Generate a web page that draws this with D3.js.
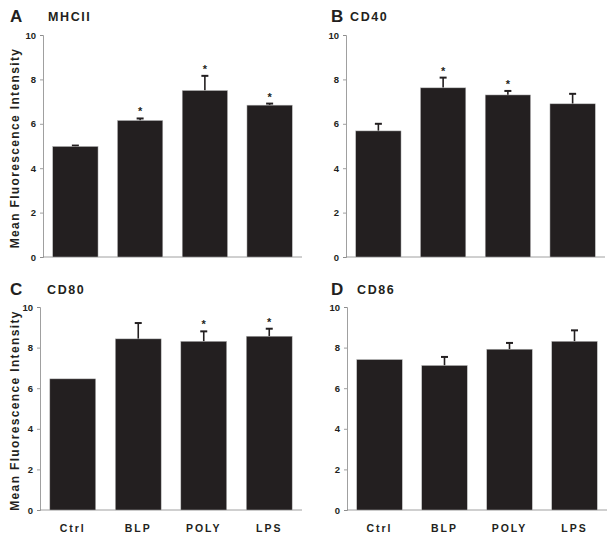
<!DOCTYPE html>
<html><head><meta charset="utf-8">
<script src="https://cdn.jsdelivr.net/npm/d3@7"></script>
<style>
body{margin:0;background:#fff;}
svg text{fill:#231f20;}
</style></head>
<body>
<svg id="c" width="615" height="542"></svg>
<script>
const categories = ["Ctrl","BLP","POLY","LPS"];
const yTicks = [0,2,4,6,8,10];
const panelLetters = ["A","B","C","D"];
const panelTitles = ["MHCII","CD40","CD80","CD86"];
const meanA = [4.98, 6.15, 7.50, 6.84];
const errA  = [5.02, 6.24, 8.16, 6.91];
const sigA  = [false, true, true, true];
const meanB = [5.68, 7.62, 7.30, 6.90];
const errB  = [6.00, 8.08, 7.48, 7.35];
const sigB  = [false, true, true, false];
const meanC = [6.46, 8.43, 8.31, 8.56];
const errC  = [null, 9.21, 8.80, 8.93];
const sigC  = [false, false, true, true];
const meanD = [7.41, 7.12, 7.92, 8.31];
const errD  = [null, 7.54, 8.23, 8.85];
const sigD  = [false, false, false, false];

const svg = d3.select("#c");
const narrow = "'Liberation Sans Narrow','Arial Narrow','Liberation Sans',sans-serif";
const wide = "'Liberation Sans',Arial,sans-serif";

const layout = [
  {x0:43, x1:302, yTop:35, yBot:257, letterX:10, letterY:22, titleX:48, ylabel:true, xlabels:false},
  {x0:346, x1:605, yTop:35, yBot:257, letterX:331, letterY:22, titleX:350, ylabel:false, xlabels:false},
  {x0:40, x1:302, yTop:307, yBot:510, letterX:10, letterY:295, titleX:47, ylabel:true, xlabels:true},
  {x0:347, x1:607, yTop:307, yBot:510, letterX:331, letterY:295, titleX:357, ylabel:false, xlabels:true}
];
const means = [meanA, meanB, meanC, meanD];
const errs = [errA, errB, errC, errD];
const sigs = [sigA, sigB, sigC, sigD];

layout.forEach((L, i) => {
  const g = svg.append("g");
  const x = d3.scaleBand().domain(categories).range([L.x0, L.x1]).paddingInner(0.3).paddingOuter(0.15);
  const y = d3.scaleLinear().domain([0, 10]).range([L.yBot, L.yTop]);
  const data = categories.map((c, k) => ({c, v: means[i][k], e: errs[i][k], s: sigs[i][k]}));

  // letter and title
  g.append("text").attr("x", L.letterX).attr("y", L.letterY)
    .attr("font-family", wide).attr("font-weight", "bold").attr("font-size", 17).text(panelLetters[i]);
  g.append("text").attr("x", L.titleX).attr("y", L.letterY - 1)
    .attr("font-family", narrow).attr("font-weight", "bold").attr("font-size", 12.5)
    .attr("letter-spacing", 1.6).text(panelTitles[i]);

  // y axis
  const ya = g.append("g").attr("transform", `translate(${L.x0},0)`)
    .call(d3.axisLeft(y).tickValues(yTicks).tickSize(3).tickPadding(4).tickFormat(d3.format("d")));
  ya.select(".domain").attr("stroke", "#888").attr("stroke-width", 0.8);
  ya.selectAll(".tick line").attr("stroke", "#888").attr("stroke-width", 0.8);
  ya.selectAll(".tick text").attr("font-family", narrow).attr("font-weight", "bold")
    .attr("font-size", 9.5).attr("fill", "#231f20");

  // x baseline
  const xa = g.append("g").attr("transform", `translate(0,${L.yBot})`)
    .call(d3.axisBottom(x).tickSize(0).tickPadding(15));
  xa.select(".domain").attr("stroke", "#888").attr("stroke-width", 0.8).attr("d", `M${L.x0},0H${L.x1}`);
  if (L.xlabels) {
    xa.selectAll(".tick text").attr("font-family", narrow).attr("font-weight", "bold")
      .attr("font-size", 10.5).attr("letter-spacing", 2).attr("fill", "#231f20");
  } else {
    xa.selectAll(".tick text").remove();
  }

  // y label
  if (L.ylabel) {
    const cy = (L.yTop + L.yBot) / 2 + 2;
    g.append("text").attr("transform", `translate(19,${cy}) rotate(-90)`)
      .attr("text-anchor", "middle").attr("font-family", wide).attr("font-weight", "bold")
      .attr("font-size", 12).attr("letter-spacing", 1.35).text("Mean Fluorescence Intensity");
  }

  // error bars (top whisker only)
  const eb = data.filter(d => d.e != null);
  g.selectAll(".ev").data(eb).join("line")
    .attr("x1", d => x(d.c) + x.bandwidth() / 2).attr("x2", d => x(d.c) + x.bandwidth() / 2)
    .attr("y1", d => y(d.v)).attr("y2", d => y(d.e))
    .attr("stroke", "#231f20").attr("stroke-width", 1.6);
  g.selectAll(".ec").data(eb).join("line")
    .attr("x1", d => x(d.c) + x.bandwidth() / 2 - 3.5).attr("x2", d => x(d.c) + x.bandwidth() / 2 + 3.5)
    .attr("y1", d => y(d.e)).attr("y2", d => y(d.e))
    .attr("stroke", "#231f20").attr("stroke-width", 2);

  // bars
  g.selectAll(".bar").data(data).join("rect")
    .attr("x", d => x(d.c)).attr("width", x.bandwidth())
    .attr("y", d => y(d.v)).attr("height", d => y(0) - y(d.v))
    .attr("fill", "#231f20").attr("stroke", "#bbb").attr("stroke-width", 0.5);

  // significance stars
  g.selectAll(".star").data(data.filter(d => d.s)).join("text")
    .attr("x", d => x(d.c) + x.bandwidth() / 2)
    .attr("y", d => y(d.e != null ? d.e : d.v) - 3)
    .attr("text-anchor", "middle").attr("font-family", wide).attr("font-weight", "bold")
    .attr("font-size", 11).text("*");
});
</script>
</body></html>
